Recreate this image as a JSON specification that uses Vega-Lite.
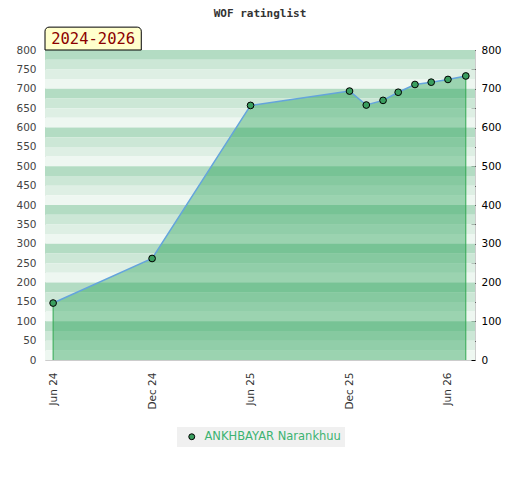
{
  "$schema": "https://vega.github.io/schema/vega-lite/v6.json",
  "width": 430,
  "height": 310,
  "autosize": {"type": "none"},
  "padding": {"left": 45, "top": 50, "right": 45, "bottom": 120},
  "background": "white",
  "title": {
    "text": "WOF ratinglist",
    "font": "DejaVu Sans Mono",
    "fontSize": 11,
    "fontWeight": "bold",
    "color": "#333333",
    "anchor": "middle",
    "frame": "group",
    "offset": 8
  },
  "config": {
    "view": {"stroke": "#cccccc"},
    "axis": {
      "labelFont": "DejaVu Sans",
      "labelFontSize": 10.5,
      "grid": false,
      "domain": false,
      "title": null
    }
  },
  "datasets": {
    "stripes": [
      {"lo": 775, "hi": 800, "band": 0}, {"lo": 750, "hi": 775, "band": 1}, {"lo": 725, "hi": 750, "band": 2}, {"lo": 700, "hi": 725, "band": 3},
      {"lo": 675, "hi": 700, "band": 0}, {"lo": 650, "hi": 675, "band": 1}, {"lo": 625, "hi": 650, "band": 2}, {"lo": 600, "hi": 625, "band": 3},
      {"lo": 575, "hi": 600, "band": 0}, {"lo": 550, "hi": 575, "band": 1}, {"lo": 525, "hi": 550, "band": 2}, {"lo": 500, "hi": 525, "band": 3},
      {"lo": 475, "hi": 500, "band": 0}, {"lo": 450, "hi": 475, "band": 1}, {"lo": 425, "hi": 450, "band": 2}, {"lo": 400, "hi": 425, "band": 3},
      {"lo": 375, "hi": 400, "band": 0}, {"lo": 350, "hi": 375, "band": 1}, {"lo": 325, "hi": 350, "band": 2}, {"lo": 300, "hi": 325, "band": 3},
      {"lo": 275, "hi": 300, "band": 0}, {"lo": 250, "hi": 275, "band": 1}, {"lo": 225, "hi": 250, "band": 2}, {"lo": 200, "hi": 225, "band": 3},
      {"lo": 175, "hi": 200, "band": 0}, {"lo": 150, "hi": 175, "band": 1}, {"lo": 125, "hi": 150, "band": 2}, {"lo": 100, "hi": 125, "band": 3},
      {"lo": 75, "hi": 100, "band": 0}, {"lo": 50, "hi": 75, "band": 1}, {"lo": 25, "hi": 50, "band": 2}, {"lo": 0, "hi": 25, "band": 3}
    ],
    "ratings": [
      {"date": "2024-06-01", "rating": 147},
      {"date": "2024-12-01", "rating": 262},
      {"date": "2025-06-01", "rating": 657},
      {"date": "2025-12-01", "rating": 694},
      {"date": "2026-01-01", "rating": 658},
      {"date": "2026-02-01", "rating": 670},
      {"date": "2026-03-01", "rating": 691},
      {"date": "2026-04-01", "rating": 711},
      {"date": "2026-05-01", "rating": 717},
      {"date": "2026-06-01", "rating": 724},
      {"date": "2026-07-04", "rating": 733}
    ],
    "edges": [
      {"date": "2024-06-01", "rating": 147},
      {"date": "2026-07-04", "rating": 733}
    ],
    "badge": [
      {"from": "2024-05-17", "to": "2024-11-11", "mid": "2024-08-14", "lo": 800, "hi": 859, "center": 829, "label": "2024-2026"}
    ]
  },
  "layer": [
    {
      "data": {"name": "stripes"},
      "mark": {"type": "rect"},
      "encoding": {
        "y": {
          "field": "lo", "type": "quantitative",
          "scale": {"domain": [0, 800], "nice": false, "zero": true},
          "axis": {
            "orient": "left",
            "values": [0, 50, 100, 150, 200, 250, 300, 350, 400, 450, 500, 550, 600, 650, 700, 750, 800],
            "ticks": false,
            "labelPadding": 9,
            "labelColor": "#444444"
          }
        },
        "y2": {"field": "hi"},
        "color": {
          "field": "band", "type": "ordinal",
          "scale": {"domain": [0, 1, 2, 3], "range": ["#b3dcc3", "#cce7d6", "#deefe4", "#eef7f1"]},
          "legend": null
        }
      }
    },
    {
      "data": {"name": "ratings"},
      "mark": {"type": "area", "color": "#1f9e50", "opacity": 0.4},
      "encoding": {
        "x": {
          "field": "date", "type": "temporal",
          "scale": {
            "type": "utc",
            "domain": [
              {"year": 2024, "month": 5, "date": 17, "utc": true},
              {"year": 2026, "month": 7, "date": 21, "utc": true}
            ]
          },
          "axis": {
            "values": [
              {"year": 2024, "month": 6, "date": 1, "utc": true},
              {"year": 2024, "month": 12, "date": 1, "utc": true},
              {"year": 2025, "month": 6, "date": 1, "utc": true},
              {"year": 2025, "month": 12, "date": 1, "utc": true},
              {"year": 2026, "month": 6, "date": 1, "utc": true}
            ],
            "format": "%b %y",
            "labelAngle": 270,
            "ticks": false,
            "labelPadding": 12,
            "labelColor": "#333333"
          }
        },
        "y": {"field": "rating", "type": "quantitative", "axis": null}
      }
    },
    {
      "data": {"name": "edges"},
      "mark": {"type": "rule", "color": "#33a852", "strokeWidth": 1},
      "encoding": {
        "x": {"field": "date", "type": "temporal"},
        "y": {"field": "rating", "type": "quantitative", "axis": null},
        "y2": {"datum": 0}
      }
    },
    {
      "data": {"name": "ratings"},
      "mark": {"type": "line", "color": "#64a4dc", "strokeWidth": 1.5},
      "encoding": {
        "x": {"field": "date", "type": "temporal"},
        "y": {"field": "rating", "type": "quantitative", "axis": null}
      }
    },
    {
      "data": {"name": "ratings"},
      "mark": {"type": "point", "filled": true, "stroke": "black", "strokeWidth": 1, "size": 45, "opacity": 1},
      "encoding": {
        "x": {"field": "date", "type": "temporal"},
        "y": {
          "field": "rating", "type": "quantitative",
          "axis": {
            "orient": "right",
            "values": [0, 50, 100, 150, 200, 250, 300, 350, 400, 450, 500, 550, 600, 650, 700, 750, 800],
            "labelExpr": "datum.value % 100 == 0 ? datum.label : ''",
            "tickSize": -4,
            "tickColor": "black",
            "labelPadding": 10,
            "labelColor": "black"
          }
        },
        "fill": {
          "datum": "ANKHBAYAR Narankhuu",
          "scale": {"range": ["#3a9e5f"]},
          "legend": {
            "orient": "none",
            "legendX": 132,
            "legendY": 377,
            "direction": "horizontal",
            "title": null,
            "fillColor": "#f0f0f0",
            "padding": 4,
            "symbolOffset": 5,
            "labelOffset": 7,
            "symbolType": "circle",
            "symbolSize": 35,
            "symbolStrokeColor": "black",
            "symbolStrokeWidth": 1,
            "labelColor": "#3cb371",
            "labelFont": "DejaVu Sans",
            "labelFontSize": 11.5
          }
        }
      }
    },
    {
      "data": {"name": "badge"},
      "mark": {"type": "rect", "fill": "#ffffcc", "stroke": "black", "strokeWidth": 1, "cornerRadiusTopLeft": 4, "cornerRadiusTopRight": 4},
      "encoding": {
        "x": {"field": "from", "type": "temporal"},
        "x2": {"field": "to"},
        "y": {"field": "lo", "type": "quantitative", "axis": null},
        "y2": {"field": "hi"}
      }
    },
    {
      "data": {"name": "badge"},
      "mark": {"type": "text", "font": "DejaVu Sans Mono", "fontSize": 15.5, "color": "#8b0000", "baseline": "middle", "align": "center"},
      "encoding": {
        "x": {"field": "mid", "type": "temporal"},
        "y": {"field": "center", "type": "quantitative", "axis": null},
        "text": {"field": "label"}
      }
    }
  ],
  "resolve": {"axis": {"y": "independent"}}
}
